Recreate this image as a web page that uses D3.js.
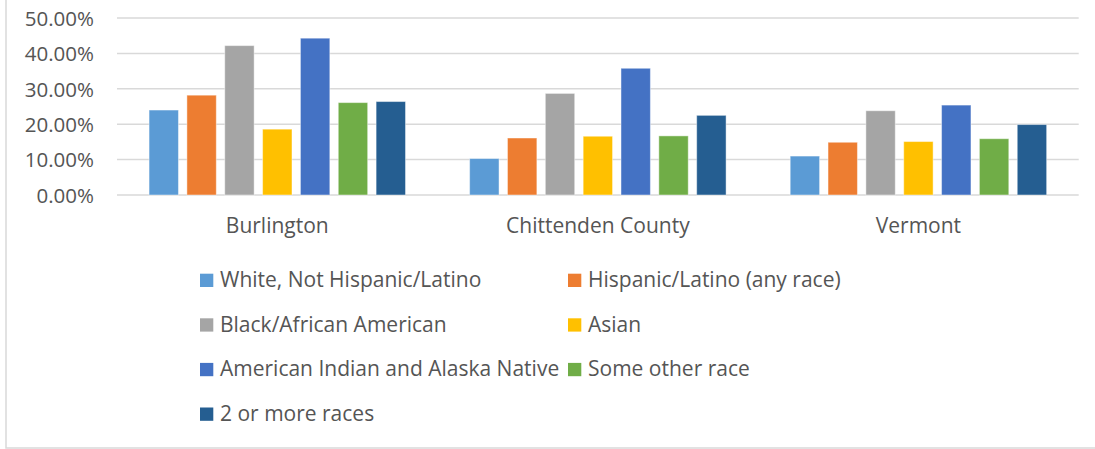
<!DOCTYPE html>
<html>
<head>
<meta charset="utf-8">
<script src="https://cdn.jsdelivr.net/npm/d3@7"></script>
<style>
  html, body { margin: 0; padding: 0; background: #fff; }
  svg { display: block; }
  text { font-family: "Open Sans", "Noto Sans", sans-serif; fill: #555555; }
</style>
</head>
<body>
<script>
// Share of each population group, by geography
const places = ["Burlington", "Chittenden County", "Vermont"];
const groups = [
  "White, Not Hispanic/Latino",
  "Hispanic/Latino (any race)",
  "Black/African American",
  "Asian",
  "American Indian and Alaska Native",
  "Some other race",
  "2 or more races"
];
const white     = [0.240, 0.103, 0.110];
const hispanic  = [0.282, 0.161, 0.149];
const black     = [0.422, 0.287, 0.238];
const asian     = [0.186, 0.166, 0.151];
const aian      = [0.443, 0.358, 0.254];
const other     = [0.261, 0.167, 0.159];
const multi     = [0.264, 0.225, 0.199];
const seriesValues = [white, hispanic, black, asian, aian, other, multi];
const colors = ["#5B9BD5", "#ED7D31", "#A5A5A5", "#FFC000", "#4472C4", "#70AD47", "#255E91"];
const yTicks = [0, 0.1, 0.2, 0.3, 0.4, 0.5];

const W = 1095, H = 449;
const svg = d3.select("body").append("svg").attr("width", W).attr("height", H);

// chart area frame (only left and bottom edges fall inside the view)
svg.append("path")
  .attr("d", "M6,0V448H1095")
  .attr("fill", "none")
  .attr("stroke", "#d9d9d9")
  .attr("stroke-width", 1.5);

const x0 = d3.scaleBand().domain(places).range([117, 1078.7]).paddingInner(0.2).paddingOuter(0.1);
const x1 = d3.scaleBand().domain(d3.range(groups.length)).range([0, x0.bandwidth()]).paddingInner(0.223).paddingOuter(0);
const y = d3.scaleLinear().domain([0, 0.5]).range([195, 18]);

// horizontal gridlines
svg.append("g").selectAll("line").data(yTicks).join("line")
  .attr("x1", 117).attr("x2", 1078.7)
  .attr("y1", d => y(d)).attr("y2", d => y(d))
  .attr("stroke", "#d9d9d9").attr("stroke-width", 1.5);

// y axis labels
const yAxis = d3.axisLeft(y).tickValues(yTicks).tickFormat(d3.format(".2%")).tickSize(0).tickPadding(0);
const yg = svg.append("g").attr("transform", "translate(94,0)").call(yAxis);
yg.select(".domain").remove();
yg.selectAll("text").attr("font-size", 20.5).attr("fill", "#555555")
  .style("font-family", "'Open Sans', sans-serif").attr("dy", "0.36em").attr("x", 0);

// bars
const gGroups = svg.append("g").selectAll("g").data(places).join("g")
  .attr("transform", d => `translate(${x0(d)},0)`);
gGroups.selectAll("rect")
  .data((p, pi) => seriesValues.map((vals, si) => ({ si, v: vals[pi] })))
  .join("rect")
  .attr("x", d => x1(d.si))
  .attr("width", x1.bandwidth())
  .attr("y", d => y(d.v))
  .attr("height", d => y(0) - y(d.v))
  .attr("fill", d => colors[d.si])
  .attr("stroke", "#ffffff").attr("stroke-opacity", 0.45).attr("stroke-width", 1);

// category labels
const xAxis = d3.axisBottom(x0).tickSize(0).tickPadding(0);
const xg = svg.append("g").attr("transform", "translate(0,195)").call(xAxis);
xg.select(".domain").remove();
xg.selectAll("text").attr("font-size", 21).attr("fill", "#555555")
  .style("font-family", "'Open Sans', sans-serif").attr("dy", 0).attr("y", 37.7);

// legend, two columns
const legend = svg.append("g").selectAll("g").data(groups).join("g")
  .attr("transform", (d, i) => `translate(${200 + (i % 2) * 368},${273.7 + Math.floor(i / 2) * 44.6})`);
legend.append("rect").attr("width", 13.3).attr("height", 13.3).attr("fill", (d, i) => colors[i]);
legend.append("text").attr("x", 20).attr("y", 13.5).attr("font-size", 21).text(d => d);
</script>
</body>
</html>
